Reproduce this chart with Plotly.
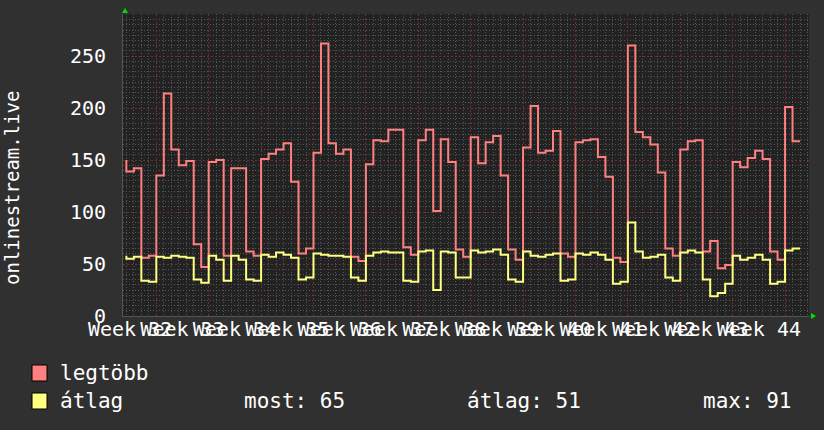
import plotly.graph_objects as go

# daily samples, one per day (0 = first sample at left of week 32)
days = list(range(91))

legtobb = [150, 139, 142, 56, 58, 135, 214, 160, 145, 149,
           69, 47, 148, 150, 58, 142, 142, 62, 58, 151,
           156, 160, 166, 129, 60, 65, 157, 262, 166, 156,
           160, 57, 53, 146, 169, 168, 179, 179, 66, 59,
           169, 179, 101, 170, 148, 64, 57, 172, 147, 167,
           173, 135, 64, 54, 162, 202, 157, 159, 178, 60,
           57, 167, 169, 170, 153, 134, 56, 52, 260, 177,
           172, 165, 138, 65, 58, 160, 168, 169, 62, 72,
           46, 49, 148, 143, 152, 159, 151, 62, 54, 201,
           168]

atlag = [58, 55, 57, 34, 33, 57, 56, 58, 57, 56,
         35, 32, 58, 54, 34, 58, 54, 35, 34, 59,
         57, 61, 59, 56, 35, 37, 60, 59, 58, 58,
         57, 37, 34, 58, 61, 62, 61, 61, 34, 33,
         62, 63, 25, 62, 61, 37, 37, 63, 61, 62,
         64, 59, 35, 33, 62, 58, 57, 59, 60, 34,
         35, 60, 59, 61, 59, 54, 31, 33, 90, 62,
         56, 57, 59, 37, 34, 61, 63, 61, 35, 19,
         22, 31, 58, 54, 56, 59, 54, 31, 33, 63,
         65]

week_labels = ["Week 32", "Week 33", "Week 34", "Week 35", "Week 36",
               "Week 37", "Week 38", "Week 39", "Week 40", "Week 41",
               "Week 42", "Week 43", "Week 44"]
week_centers = [0.5 + 7 * i for i in range(len(week_labels))]

stats = {"most": 65, "átlag": 51, "max": 91}

RED = "#ff8080"
YELLOW = "#ffff80"
FONT = "DejaVu Sans Mono"

# plot area in pixels, used to place things outside it
W, H = 824, 430
L, R, T, B = 123, 15, 14, 114


def px_x(p):
    return (p - L) / (W - L - R)


def px_y(p):
    return (H - B - p) / (H - T - B)


fig = go.Figure()

fig.add_trace(go.Scatter(x=days, y=legtobb, mode="lines",
                         line=dict(color=RED, width=2, shape="vh"),
                         showlegend=False, hoverinfo="skip"))
fig.add_trace(go.Scatter(x=days, y=atlag, mode="lines",
                         line=dict(color=YELLOW, width=2, shape="vh"),
                         showlegend=False, hoverinfo="skip"))

# dummy trace so the label axis gets drawn
fig.add_trace(go.Scatter(x=[None], y=[None], xaxis="x2", showlegend=False))

fig.update_layout(
    width=W, height=H,
    margin=dict(l=L, r=R, t=T, b=B),
    paper_bgcolor="#303030",
    plot_bgcolor="#222222",
    font=dict(family=FONT, color="white", size=20),
    xaxis=dict(
        range=[-0.45, 91.2], tickmode="linear", tick0=4, dtick=7,
        showgrid=True, gridcolor="#6e3030", griddash="2px,2px", gridwidth=1,
        showticklabels=False, ticks="", zeroline=False,
        showline=True, linecolor="#555555",
        minor=dict(tickmode="linear", tick0=0, dtick=1, showgrid=True,
                   gridcolor="#565656", griddash="1px,2px"),
    ),
    xaxis2=dict(
        overlaying="x", matches="x", anchor="y", side="bottom",
        tickmode="array", tickvals=week_centers, ticktext=week_labels,
        tickangle=0, showgrid=False, zeroline=False, ticks="outside", ticklen=1,
        ticklabelstandoff=-6,
        tickcolor="rgba(0,0,0,0)", tickfont=dict(size=20, color="white", family=FONT),
    ),
    yaxis=dict(
        range=[0, 290.4], tickmode="linear", tick0=0, dtick=50,
        showgrid=True, gridcolor="#6e3030", griddash="2px,2px", gridwidth=1,
        zeroline=False, showline=True, linecolor="#555555",
        ticks="outside", ticklen=12, tickcolor="rgba(0,0,0,0)",
        tickfont=dict(size=20, color="white", family=FONT),
        minor=dict(tickmode="linear", tick0=0, dtick=5, showgrid=True,
                   gridcolor="#565656", griddash="1px,2px"),
    ),
)

# green axis arrows (rrdtool style)
fig.add_shape(type="path", xref="paper", yref="paper", line=dict(width=0),
              fillcolor="#00dd00",
              path=f"M {px_x(122)} {px_y(13)} L {px_x(128)} {px_y(13)} L {px_x(125)} {px_y(8)} Z")
fig.add_shape(type="path", xref="paper", yref="paper", line=dict(width=0),
              fillcolor="#00dd00",
              path=f"M {px_x(811)} {px_y(313)} L {px_x(811)} {px_y(319)} L {px_x(816)} {px_y(316)} Z")

# y axis title
fig.add_annotation(text="onlinestream.live", textangle=-90,
                   x=px_x(12), y=px_y(188), xref="paper", yref="paper",
                   xanchor="center", yanchor="middle",
                   showarrow=False, font=dict(size=19, color="white", family=FONT))

# legend boxes and texts
for color, top in [(RED, 365), (YELLOW, 393)]:
    fig.add_shape(type="rect", xref="paper", yref="paper",
                  x0=px_x(32), x1=px_x(47), y0=px_y(top), y1=px_y(top + 16),
                  fillcolor=color, line=dict(color="black", width=1))

legend_items = [("legtöbb", 58, 373), ("átlag", 58, 401)]
stat_pos = {"most": 242, "átlag": 465, "max": 701}
for k, v in stats.items():
    legend_items.append((f"{k}: {v}", stat_pos[k], 401))

for text, x, y in legend_items:
    fig.add_annotation(text=text, x=px_x(x), y=px_y(y), xref="paper", yref="paper",
                       xanchor="left", yanchor="middle", showarrow=False,
                       font=dict(size=21, color="white", family=FONT))

# page has a default body margin; drop it so the chart sits at 0,0
fig.write_html("out.html", config={"displayModeBar": False},
               post_script="document.body.style.margin='0px';")
